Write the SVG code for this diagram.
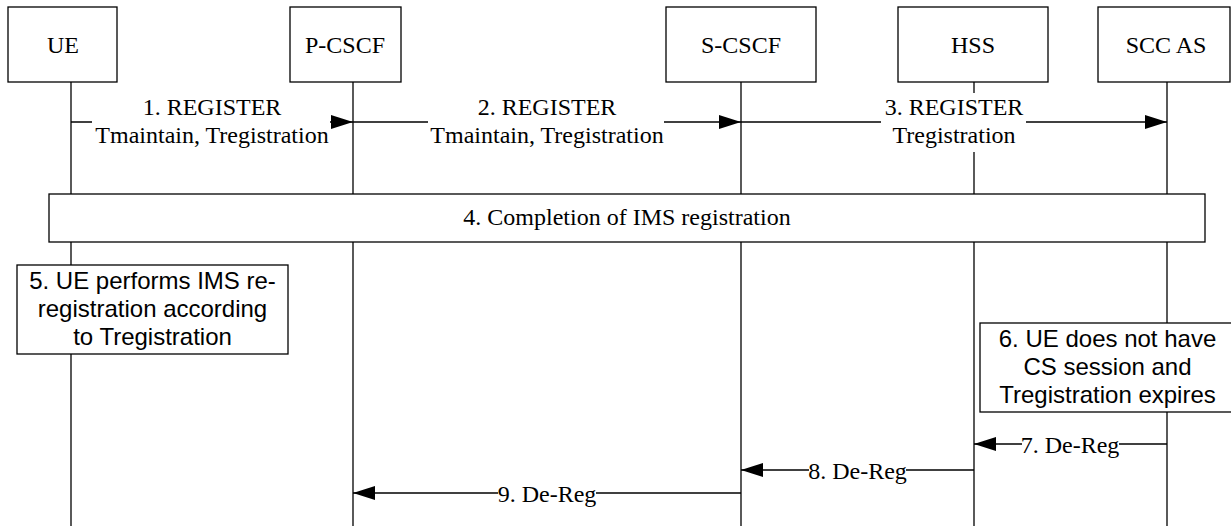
<svg xmlns="http://www.w3.org/2000/svg" width="1231" height="526" viewBox="0 0 1231 526">
<style>
.box{fill:#fff;stroke:#000;stroke-width:1.3}
.life{stroke:#000;stroke-width:1.3;fill:none}
.msg{stroke:#000;stroke-width:1.3;fill:none}
.t{font-family:"Liberation Serif","Times New Roman",serif;font-size:24px;fill:#000;text-anchor:middle}
.a{font-family:"Liberation Sans",Arial,sans-serif;font-size:24px;fill:#000;text-anchor:middle}
.bg{fill:#fff;stroke:none}
</style>
<defs>
<marker id="ah" markerWidth="22" markerHeight="14" refX="22" refY="7" orient="auto" markerUnits="userSpaceOnUse">
<path d="M0,0 L22,7 L0,14 Z" fill="#000"/>
</marker>
</defs>
<rect width="1231" height="526" fill="#fff"/>
<g id="lifelines">
<line class="life" x1="71" y1="82" x2="71" y2="526"/>
<line class="life" x1="353" y1="82" x2="353" y2="526"/>
<line class="life" x1="741" y1="82" x2="741" y2="526"/>
<line class="life" x1="974" y1="82" x2="974" y2="526"/>
<line class="life" x1="1167" y1="82" x2="1167" y2="526"/>
</g>
<g id="UE"><rect class="box" x="8" y="7" width="109" height="75"/><text class="t" x="63" y="53">UE</text></g>
<g id="P-CSCF"><rect class="box" x="290" y="7" width="111" height="75"/><text class="t" x="345" y="53">P-CSCF</text></g>
<g id="S-CSCF"><rect class="box" x="666" y="7" width="150" height="75"/><text class="t" x="741" y="53">S-CSCF</text></g>
<g id="HSS"><rect class="box" x="898" y="7" width="150" height="75"/><text class="t" x="973" y="53">HSS</text></g>
<g id="SCCAS"><rect class="box" x="1098" y="7" width="132" height="75"/><text class="t" x="1166" y="53">SCC AS</text></g>
<g id="connectors">
<line class="msg" x1="71" y1="122" x2="353" y2="122" marker-end="url(#ah)"/>
<rect class="bg" x="92" y="97" width="238" height="53"/>
<text class="t" x="212" y="115">1. REGISTER</text>
<text class="t" x="212" y="143">Tmaintain, Tregistration</text>
<line class="msg" x1="353" y1="122" x2="741" y2="122" marker-end="url(#ah)"/>
<rect class="bg" x="428" y="97" width="236" height="53"/>
<text class="t" x="547" y="115">2. REGISTER</text>
<text class="t" x="547" y="143">Tmaintain, Tregistration</text>
<line class="msg" x1="741" y1="122" x2="1167" y2="122" marker-end="url(#ah)"/>
<rect class="bg" x="881" y="93" width="145" height="59"/>
<text class="t" x="954" y="115">3. REGISTER</text>
<text class="t" x="954" y="143">Tregistration</text>
<line class="msg" x1="1167" y1="444" x2="974" y2="444" marker-end="url(#ah)"/>
<rect class="bg" x="1022" y="434" width="97" height="20"/>
<text class="t" x="1070" y="452.5">7. De-Reg</text>
<line class="msg" x1="974" y1="470" x2="741" y2="470" marker-end="url(#ah)"/>
<rect class="bg" x="809" y="460" width="97" height="20"/>
<text class="t" x="857.5" y="478.5">8. De-Reg</text>
<line class="msg" x1="741" y1="493" x2="353" y2="493" marker-end="url(#ah)"/>
<rect class="bg" x="498" y="483" width="98" height="20"/>
<text class="t" x="547" y="501.5">9. De-Reg</text>
</g>
<g id="step4"><rect class="box" x="49" y="194" width="1156" height="48"/><text class="t" x="627" y="225">4. Completion of IMS registration</text></g>
<g id="step5"><rect class="box" x="17" y="265" width="271" height="89"/>
<text class="a" x="152.5" y="289">5. UE performs IMS re-</text>
<text class="a" x="152.5" y="317">registration according</text>
<text class="a" x="152.5" y="345">to Tregistration</text></g>
<g id="step6"><rect class="box" x="980" y="323" width="256" height="89"/>
<text class="a" x="1107.5" y="347">6. UE does not have</text>
<text class="a" x="1107.5" y="375">CS session and</text>
<text class="a" x="1107.5" y="403">Tregistration expires</text></g>
</svg>
